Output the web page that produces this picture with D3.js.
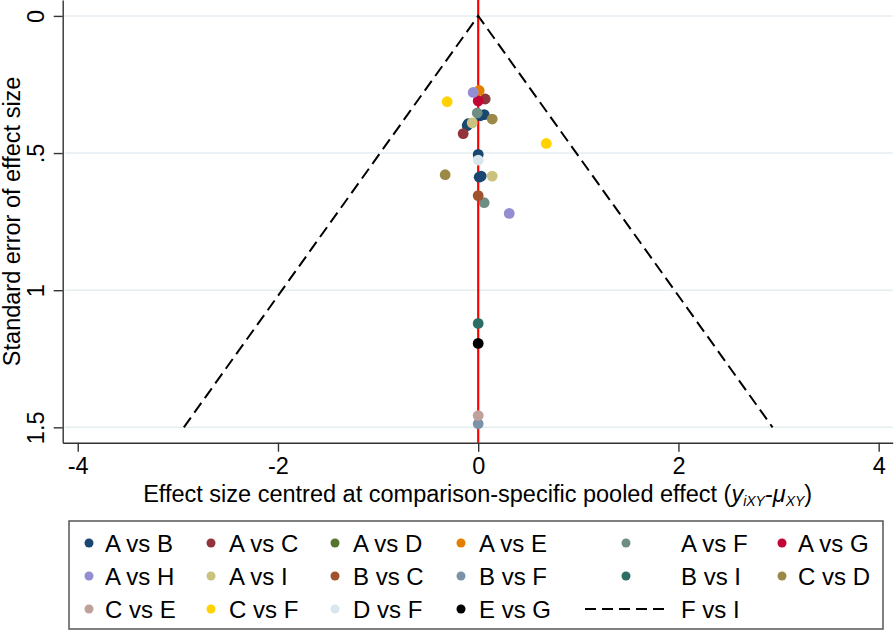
<!DOCTYPE html>
<html>
<head>
<meta charset="utf-8">
<script src="https://cdn.jsdelivr.net/npm/d3@7"></script>
<style>
body { margin: 0; background: #fff; }
svg { display: block; font-family: "Liberation Sans", Arial, sans-serif; }
</style>
</head>
<body>
<script>
// legend entries, in Stata's series order (the last one is the funnel line)
const comparisons = ["A vs B", "A vs C", "A vs D", "A vs E", "A vs F", "A vs G",
	"A vs H", "A vs I", "B vs C", "B vs F", "B vs I", "C vs D",
	"C vs E", "C vs F", "D vs F", "E vs G", "F vs I"];
const seriesColors = ["#1a476f", "#90353b", "#55752f", "#e37e00", "#6e8e84", "#c10534",
	"#938dd2", "#cac27e", "#a0522d", "#7b92a8", "#2d6d66", "#9c8847",
	"#bfa19c", "#ffd200", "#d9e6eb", "#000000", "#000000"];

// one entry per study: comparison, centred effect, standard error
const pointComparison = ["A vs H", "A vs E", "C vs F", "A vs G", "A vs C", "A vs F",
	"A vs B", "A vs B", "A vs B", "A vs B", "A vs I", "C vs D", "A vs C", "C vs F",
	"A vs B", "D vs F", "C vs D", "A vs B", "A vs B", "A vs I", "B vs C", "A vs F",
	"A vs H", "B vs I", "E vs G", "C vs E", "B vs F"];
const pointEffect = [-0.05, 0.01, -0.31, 0.00, 0.07, -0.01,
	0.02, 0.06, -0.10, -0.11, -0.06, 0.14, -0.15, 0.68,
	0.00, 0.00, -0.33, 0.01, 0.03, 0.14, 0.00, 0.06,
	0.31, 0.00, 0.00, 0.00, 0.00];
const pointSE = [0.279, 0.272, 0.313, 0.310, 0.303, 0.354,
	0.364, 0.360, 0.393, 0.400, 0.390, 0.376, 0.429, 0.465,
	0.505, 0.526, 0.579, 0.588, 0.584, 0.584, 0.655, 0.681,
	0.720, 1.121, 1.194, 1.457, 1.487];

// pseudo 95% limits of the funnel
const funnelEffect = [-2.94, 0, 2.94];
const funnelSE = [1.5, 0, 1.5];

const xTicks = [-4, -2, 0, 2, 4];
const yTicks = [0, 0.5, 1, 1.5];
const yTickLabels = ["0", ".5", "1", "1.5"];

const width = 896, height = 634;
const plot = {left: 62.7, right: 892.7, top: 0, bottom: 442.7};

const svg = d3.select("body").append("svg")
	.attr("width", width)
	.attr("height", height);

const x = d3.scaleLinear().domain([-4.15, 4.14]).range([plot.left, plot.right]);
const y = d3.scaleLinear().domain([-0.058, 1.556]).range([plot.top, plot.bottom]);
const color = d3.scaleOrdinal().domain(comparisons).range(seriesColors);

// grid
svg.append("g").selectAll("line")
	.data(yTicks)
	.enter().append("line")
	.attr("x1", plot.left + 2).attr("x2", plot.right)
	.attr("y1", d => y(d)).attr("y2", d => y(d))
	.attr("stroke", "#e4edf0")
	.attr("stroke-width", 1.5);

// reference line at zero
svg.append("line")
	.attr("x1", x(0)).attr("x2", x(0))
	.attr("y1", plot.top).attr("y2", plot.bottom)
	.attr("stroke", "#ff0000")
	.attr("stroke-width", 2.2);

// funnel
const funnel = d3.line()
	.x((d, i) => x(funnelEffect[i]))
	.y((d, i) => y(funnelSE[i]));
svg.append("path")
	.attr("d", funnel(funnelEffect))
	.attr("fill", "none")
	.attr("stroke", "#000")
	.attr("stroke-width", 2)
	.attr("stroke-dasharray", "12,6");

// points, drawn in series order
const pts = d3.range(pointEffect.length)
	.sort((a, b) => comparisons.indexOf(pointComparison[a]) - comparisons.indexOf(pointComparison[b]));
svg.append("g").selectAll("circle")
	.data(pts)
	.enter().append("circle")
	.attr("cx", i => x(pointEffect[i]))
	.attr("cy", i => y(pointSE[i]))
	.attr("r", 5.4)
	.attr("fill", i => color(pointComparison[i]));

// axes
const xAxis = svg.append("g")
	.attr("transform", "translate(0," + plot.bottom + ")")
	.call(d3.axisBottom(x).tickValues(xTicks).tickSize(9).tickSizeOuter(0).tickPadding(6));
xAxis.selectAll("text")
	.attr("font-size", 23.5)
	.attr("font-family", "Liberation Sans, Arial, sans-serif")
	.attr("fill", "#000")
	.text(d => d < 0 ? "-" + Math.abs(d) : d);

const yAxis = svg.append("g")
	.attr("transform", "translate(" + plot.left + ",0)")
	.call(d3.axisLeft(y).tickValues(yTicks).tickFormat((d, i) => yTickLabels[i]).tickSize(9).tickSizeOuter(0));
yAxis.selectAll("text")
	.attr("x", 0).attr("dy", null)
	.attr("text-anchor", "middle")
	.attr("transform", "translate(-19,0) rotate(-90)")
	.attr("font-size", 23.5)
	.attr("font-family", "Liberation Sans, Arial, sans-serif")
	.attr("fill", "#000");

svg.selectAll(".domain, .tick line")
	.attr("stroke", "#333")
	.attr("stroke-width", 1.4);

// axis titles
svg.append("text")
	.attr("transform", "translate(20," + (plot.top + plot.bottom) / 2 + ") rotate(-90)")
	.attr("text-anchor", "middle")
	.attr("font-size", 23.5)
	.text("Standard error of effect size");

const xt = svg.append("text")
	.attr("x", (plot.left + plot.right) / 2)
	.attr("y", 502)
	.attr("text-anchor", "middle")
	.attr("font-size", 23.5);
xt.append("tspan").text("Effect size centred at comparison-specific pooled effect (");
xt.append("tspan").attr("font-style", "italic").text("y");
xt.append("tspan").attr("font-style", "italic").attr("font-size", 14).attr("dy", 4).text("iXY");
xt.append("tspan").attr("dy", -4).text("-");
xt.append("tspan").attr("font-style", "italic").text("μ");
xt.append("tspan").attr("font-style", "italic").attr("font-size", 14).attr("dy", 4).text("XY");
xt.append("tspan").attr("dy", -4).text(")");

// legend
const legendKeyX = [89, 211, 335, 461, 626, 782];
const legendTextX = [105, 229, 353, 479, 681, 798];
const legendRowY = [543, 576, 609];

svg.append("rect")
	.attr("x", 69).attr("y", 521)
	.attr("width", 814).attr("height", 108)
	.attr("fill", "none")
	.attr("stroke", "#555")
	.attr("stroke-width", 1.5);

const item = svg.append("g").selectAll("g")
	.data(comparisons)
	.enter().append("g")
	.attr("transform", (d, i) => "translate(0," + legendRowY[Math.floor(i / 6)] + ")");

item.filter(d => d !== "F vs I").append("circle")
	.attr("cx", (d, i) => legendKeyX[i % 6])
	.attr("r", 4.5)
	.attr("fill", d => color(d));

item.filter(d => d === "F vs I").append("line")
	.attr("x1", 585).attr("x2", 668)
	.attr("stroke", "#000")
	.attr("stroke-width", 2)
	.attr("stroke-dasharray", "11,6");

item.append("text")
	.attr("x", (d, i) => legendTextX[i % 6])
	.attr("dy", "0.36em")
	.attr("font-size", 24)
	.text(d => d);
</script>
</body>
</html>
